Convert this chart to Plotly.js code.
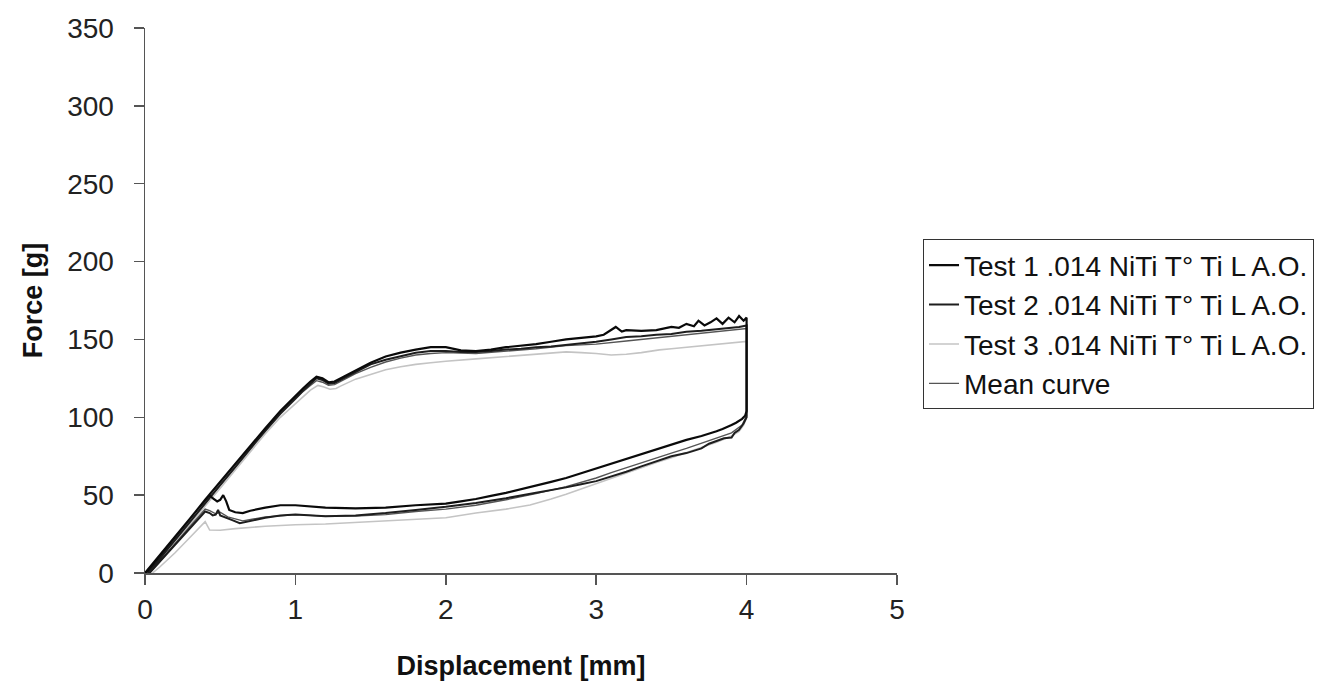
<!DOCTYPE html>
<html>
<head>
<meta charset="utf-8">
<script src="https://cdn.plot.ly/plotly-3.0.1.min.js"></script>
<style>html,body{margin:0;padding:0;background:#fff;}#chart{width:1334px;height:681px;}</style>
</head>
<body>
<div id="chart"></div>
<script>
// Test 1 (loading then unloading)
var t1x = [0,0.1,0.2,0.3,0.4,0.5,0.6,0.7,0.8,0.9,0.95,1.0,1.05,1.1,1.14,1.18,1.22,1.26,1.3,1.35,1.4,1.5,1.6,1.7,1.8,1.9,2.0,2.1,2.2,2.3,2.4,2.5,2.6,2.7,2.8,2.9,3.0,3.05,3.1,3.13,3.17,3.2,3.3,3.4,3.5,3.55,3.6,3.65,3.68,3.72,3.76,3.8,3.84,3.88,3.92,3.95,3.98,4.0,
  4.0,3.99,3.97,3.95,3.93,3.9,3.87,3.84,3.8,3.75,3.7,3.6,3.5,3.4,3.3,3.2,3.1,3.0,2.9,2.8,2.7,2.6,2.5,2.4,2.3,2.2,2.1,2.0,1.8,1.6,1.4,1.2,1.0,0.9,0.8,0.7,0.65,0.6,0.56,0.54,0.52,0.5,0.48,0.45,0.43,0.35,0.25,0.15,0.05,0.01];
var t1y = [0,11.5,23.5,35,47,58.5,70,82,93,104,109,113.5,118.5,123,126,125,122.5,123,125,127.5,130.5,135,139,141.5,143.5,145,145,143,142.5,143.5,145,146,147,148.5,150,151,152,153,156,158,155,156,155.5,156,158,157.5,160,158.5,162,159,161,163.5,160,164,161,165,162,164,
  104,101,99,97.5,96.5,95,94,92.5,91,89.5,88,85.5,82.5,79.5,76,73,70,67,64,61,58.5,56,53.5,51.5,49.5,47.5,46,44.5,43.5,42,41.5,42,43.5,43.5,42,40,38.5,39,40.5,46,50,47,46,48,50,41,29,17,5.5,0.5];

// Test 2
var t2x = [0.02,0.1,0.2,0.3,0.4,0.5,0.6,0.7,0.8,0.9,0.95,1.0,1.05,1.1,1.14,1.18,1.22,1.26,1.3,1.4,1.5,1.6,1.7,1.8,1.9,2.0,2.1,2.2,2.3,2.4,2.5,2.6,2.7,2.8,2.9,3.0,3.1,3.2,3.3,3.4,3.5,3.6,3.7,3.8,3.9,3.95,4.0,
  4.0,3.98,3.95,3.92,3.9,3.85,3.8,3.75,3.7,3.6,3.5,3.4,3.3,3.2,3.1,3.0,2.9,2.8,2.6,2.4,2.2,2.0,1.8,1.6,1.4,1.2,1.0,0.9,0.8,0.7,0.63,0.58,0.53,0.5,0.486,0.47,0.45,0.43,0.4,0.3,0.2,0.1,0.03];
var t2y = [0,9.5,21.5,33,45,56.5,68,80,91.5,102.5,107.5,112,117,121.5,125,124,121.5,122,124,129.5,134,137,139.5,141.5,142.5,142.5,142,142,142.5,143.5,144,145,145.5,146.5,147.5,148.5,150,151.5,152,153,153.5,155,155.5,156.5,157.5,158,159,
  100,96,92,90,87,86.5,84.5,83,80,77,75,72,68.5,65,62,59,57,55,51.5,48,45,42.5,40.5,38.5,37,36.5,37.5,37,35.5,33.5,32,34,36,37,40.5,37.5,37,38.5,39.5,29,18,7.5,0];

// Test 3
var t3x = [0.03,0.1,0.2,0.3,0.4,0.5,0.6,0.7,0.8,0.9,1.0,1.05,1.1,1.15,1.19,1.23,1.27,1.3,1.4,1.5,1.6,1.7,1.8,1.9,2.0,2.2,2.4,2.56,2.7,2.8,2.9,3.0,3.1,3.2,3.3,3.42,3.5,3.6,3.7,3.8,3.9,4.0,
  4.0,3.98,3.95,3.9,3.8,3.7,3.6,3.5,3.4,3.3,3.2,3.1,3.0,2.9,2.8,2.7,2.56,2.4,2.2,2.0,1.8,1.6,1.4,1.2,1.0,0.8,0.6,0.5,0.43,0.41,0.4,0.3,0.2,0.1,0.05];
var t3y = [0,8,19.5,31,43,54.5,66,78,89.5,100,109,113.5,117.5,120.5,119.5,118,118.5,120,124.5,127.5,130.5,132.5,134,135,136,137.5,139,140,141.5,142,141.5,141,140,140.5,141.5,143.3,144,145,146,147,148,148.7,
  100,95,91,88,84,80.5,77.5,74,71,67.5,64.5,61,57.5,54,50.5,47.5,43.7,41,38.5,35.5,34.5,33.5,32.5,31.5,31,30,28.5,27.5,27.6,31,33,23,13,4,0];

// Mean curve
var mx = [0.02,0.1,0.2,0.3,0.4,0.5,0.6,0.7,0.8,0.9,1.0,1.05,1.1,1.14,1.18,1.22,1.26,1.3,1.4,1.5,1.6,1.7,1.8,1.9,2.0,2.2,2.4,2.6,2.8,3.0,3.2,3.4,3.6,3.8,3.9,4.0,
  4.0,3.97,3.9,3.8,3.7,3.6,3.5,3.4,3.3,3.2,3.1,3.0,2.8,2.6,2.4,2.2,2.0,1.8,1.6,1.4,1.2,1.0,0.8,0.65,0.55,0.5,0.47,0.43,0.4,0.3,0.2,0.1,0.03];
var my = [0,9.5,21.5,33,45,56.5,68,80,91,102,111.5,116.5,120.5,123.5,122.5,120.5,121,123,128,132,135.5,138,140,141,141.5,141,142.5,144,146,147,149,151,153,155,156,157,
  101,95,90,86.5,83,80,77,74,70.5,67.5,64.5,61,55.5,51,47,43.5,41,39.5,37.5,36.5,36.5,37.5,36,33.5,36,39,38,40,41,30,18.5,7.5,0];

var names = ["Test 1 .014 NiTi T\u00b0 Ti L A.O.", "Test 2 .014 NiTi T\u00b0 Ti L A.O.", "Test 3 .014 NiTi T\u00b0 Ti L A.O.", "Mean curve"];
var xTicks = [0,1,2,3,4,5];
var yTicks = [0,50,100,150,200,250,300,350];

var traces = [
  {x:t3x, y:t3y, name:names[2], legendrank:3, mode:'lines', line:{color:'#c4c4c4', width:1.6}},
  {x:mx, y:my, name:names[3], legendrank:4, mode:'lines', line:{color:'#555555', width:1.4}},
  {x:t2x, y:t2y, name:names[1], legendrank:2, mode:'lines', line:{color:'#1e1e1e', width:2}},
  {x:t1x, y:t1y, name:names[0], legendrank:1, mode:'lines', line:{color:'#0a0a0a', width:2.2}}
];

var fnt = 'Liberation Sans, Arial, sans-serif';
var layout = {
  width:1334, height:681,
  margin:{l:145, r:437, t:28, b:108},
  paper_bgcolor:'#fff', plot_bgcolor:'#fff',
  font:{family:fnt, color:'#1a1a1a'},
  showlegend:true,
  legend:{x:1.0346, xanchor:'left', y:0.612, yanchor:'top', bordercolor:'#333', borderwidth:1,
          font:{family:fnt, size:28, color:'#111'}, bgcolor:'#fff', tracegroupgap:0},
  xaxis:{range:[0,5], tickvals:xTicks, ticktext:xTicks.map(String), showline:true, linecolor:'#555', linewidth:1.5,
         ticks:'outside', ticklen:10, tickcolor:'#555', tickwidth:1.5, showgrid:false, zeroline:false,
         tickfont:{size:28, family:fnt, color:'#222'}, ticklabelstandoff:1,
         title:{text:'<b>Displacement [mm]</b>', font:{size:27, family:fnt, color:'#111'}, standoff:36}},
  yaxis:{range:[0,350], tickvals:yTicks, ticktext:yTicks.map(String), showline:true, linecolor:'#555', linewidth:1.5,
         ticks:'outside', ticklen:10, tickcolor:'#555', tickwidth:1.5, showgrid:false, zeroline:false,
         tickfont:{size:28, family:fnt, color:'#222'}, ticklabelstandoff:14,
         title:{text:'<b>Force [g]</b>', font:{size:27, family:fnt, color:'#111'}, standoff:16}}
};
Plotly.newPlot('chart', traces, layout, {displayModeBar:false, staticPlot:true});
</script>
</body>
</html>
